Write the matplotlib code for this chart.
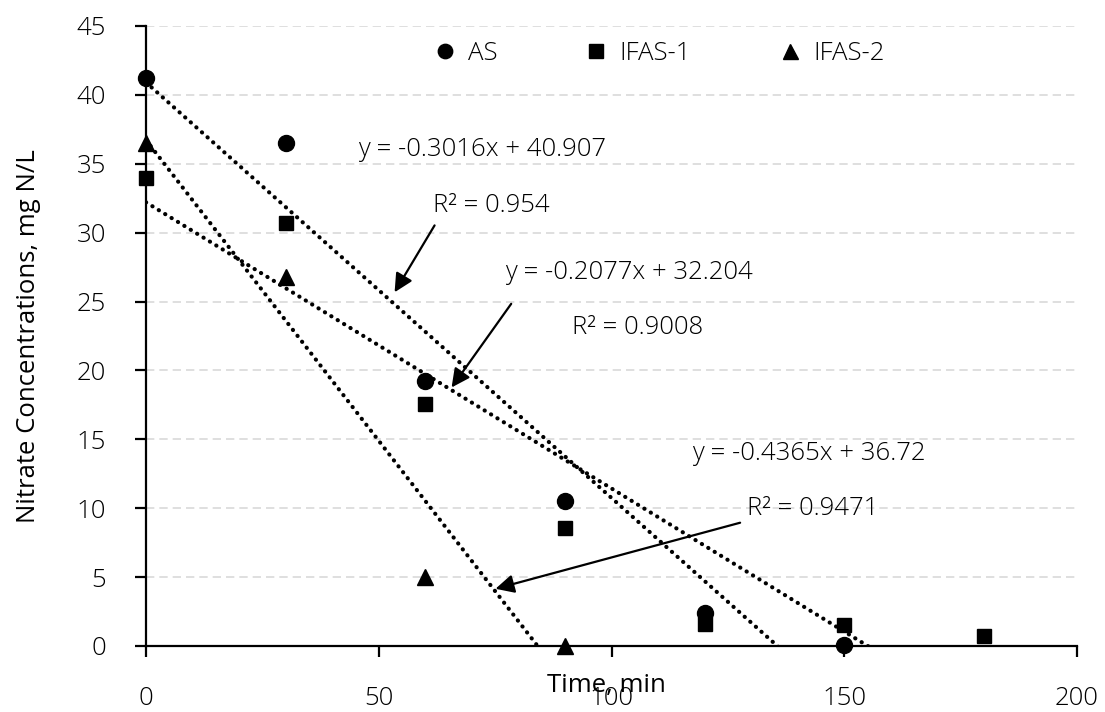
import numpy as np
import matplotlib.pyplot as plt

plt.rcParams['font.family'] = ['Open Sans', 'DejaVu Sans']
plt.rcParams['font.weight'] = 'light'

# data
t_as = [0, 30, 60, 90, 120, 150]
as_vals = [41.2, 36.5, 19.2, 10.5, 2.4, 0.1]
t_if1 = [0, 30, 60, 90, 120, 150, 180]
if1_vals = [34.0, 30.7, 17.6, 8.6, 1.6, 1.5, 0.7]
t_if2 = [0, 30, 60, 90]
if2_vals = [36.5, 26.8, 5.0, 0.0]

# trendline coefficients shown on the chart
slopes = [-0.3016, -0.2077, -0.4365]
intercepts = [40.907, 32.204, 36.72]
r2 = [0.954, 0.9008, 0.9471]

fig = plt.figure(figsize=(11.05, 7.12), dpi=100)
ax = fig.add_axes([0.1321, 0.0927, 0.8426, 0.8708])

fs = 18.5
ax.plot(t_as, as_vals, 'o', color='black', ms=11.5, label='AS', zorder=3, clip_on=False)
ax.plot(t_if1, if1_vals, 's', color='black', ms=10.5, label='IFAS-1', zorder=3, clip_on=False)
ax.plot(t_if2, if2_vals, '^', color='black', ms=12, label='IFAS-2', zorder=3, clip_on=False)

for tt, m, b in zip([t_as, t_if1, t_if2], slopes, intercepts):
    xx = np.linspace(0, max(tt), 200)
    ax.plot(xx, m*xx + b, color='black', lw=3, linestyle=(0, (0.05, 1.75)),
            dash_capstyle='round', zorder=2)

ax.set_xlim(0, 200)
ax.set_ylim(0, 45)
ax.set_xticks(np.arange(0, 201, 50))
ax.set_yticks(np.arange(0, 46, 5))
ax.yaxis.grid(True, color='#d9d9d9', linestyle=(0, (5, 3)), lw=1.2)
ax.set_axisbelow(True)
for s in ['top', 'right']:
    ax.spines[s].set_visible(False)
for s in ['left', 'bottom']:
    ax.spines[s].set_linewidth(1.6)
    ax.spines[s].set_color('black')
ax.tick_params(axis='both', direction='out', length=8, width=1.6, labelsize=fs)
ax.tick_params(axis='y', pad=21)
ax.tick_params(axis='x', pad=21)

ax.set_ylabel('Nitrate Concentrations, mg N/L', fontsize=fs)
ax.yaxis.set_label_coords(-0.113, 0.5)
ax.set_xlabel('Time, min', fontsize=fs)
ax.xaxis.set_label_coords(0.495, -0.044)

ax.legend(loc='center', bbox_to_anchor=(0.55, 0.956), ncol=3, frameon=False,
          fontsize=fs, columnspacing=3.35, handlelength=1.0, handletextpad=0.4,
          markerscale=0.9)

arrow = dict(arrowstyle='-|>', color='black', lw=1.6, mutation_scale=28)
txt = dict(fontsize=fs, va='center', ha='left')

ax.text(45.5, 36.0, 'y = %.4fx + %.3f' % (slopes[0], intercepts[0]), **txt)
ax.text(61.7, 32.0, 'R² = %.3f' % r2[0], **txt)
ax.annotate('', xy=(53.1, 25.5), xytext=(62.3, 30.7), arrowprops=arrow)

ax.text(77.1, 27.1, 'y = %.4fx + %.3f' % (slopes[1], intercepts[1]), **txt)
ax.text(91.5, 23.1, 'R² = %.4f' % r2[1], **txt)
ax.annotate('', xy=(65.3, 18.6), xytext=(78.8, 25.0), arrowprops=arrow)

ax.text(117.3, 14.0, 'y = %.4fx + %.2f' % (slopes[2], intercepts[2]), **txt)
ax.text(129.1, 10.0, 'R² = %.4f' % r2[2], **txt)
ax.annotate('', xy=(74.5, 4.1), xytext=(128.2, 9.0), arrowprops=arrow)

fig.savefig('out.png', dpi=100)
